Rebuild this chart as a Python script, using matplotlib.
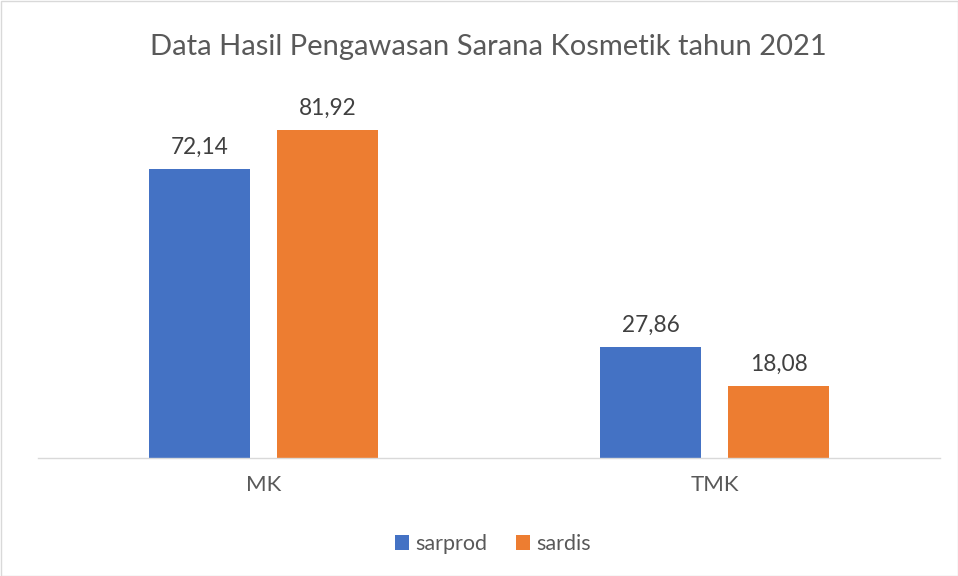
import matplotlib.pyplot as plt
import numpy as np

plt.rcParams['font.family'] = ['Lato', 'DejaVu Sans']

categories = ['MK', 'TMK']
sarprod = [72.14, 27.86]
sardis = [81.92, 18.08]
series_names = ['sarprod', 'sardis']

blue = '#4472C4'
orange = '#ED7D31'
txt = '#595959'
lbl = '#404040'

fig = plt.figure(figsize=(9.58, 5.76), dpi=100)
ax = fig.add_axes([38/958, 118/576, 902/958, 360/576])

x = np.arange(len(categories))
w = 0.224
off = 0.142
b1 = ax.bar(x - off, sarprod, w, color=blue, label=series_names[0])
b2 = ax.bar(x + off, sardis, w, color=orange, label=series_names[1])

def fmt(v):
    return f'{v:.2f}'.replace('.', ',')

for bars, vals in ((b1, sarprod), (b2, sardis)):
    for r, v in zip(bars, vals):
        ax.annotate(fmt(v), (r.get_x() + r.get_width()/2, v), xytext=(0, 8),
                    textcoords='offset points', ha='center', va='bottom',
                    fontsize=16.3, color=lbl)

ax.set_xlim(-0.5, 1.5)
ax.set_ylim(0, 90)
ax.set_yticks([])
ax.set_xticks(x)
ax.set_xticklabels(categories, fontsize=16, color=txt)
ax.tick_params(axis='x', length=0, pad=12)
for s in ['top', 'right', 'left']:
    ax.spines[s].set_visible(False)
ax.spines['bottom'].set_color('#D9D9D9')
ax.spines['bottom'].set_linewidth(1)

fig.text(488/958, 1 - 47/576, 'Data Hasil Pengawasan Sarana Kosmetik tahun 2021',
         ha='center', va='center', fontsize=21, color=txt)

leg = fig.legend(handles=[b1, b2], loc='center', bbox_to_anchor=(493/958, 1 - 544/576),
                 ncol=2, frameon=False, fontsize=15.5, handlelength=0.65,
                 handleheight=0.65, handletextpad=0.3, columnspacing=1.3)
for t in leg.get_texts():
    t.set_color(txt)

fig.patches.append(plt.Rectangle((0.5/958, 0.5/576), 1 - 1/958, 1 - 1/576,
                                 transform=fig.transFigure, fill=False,
                                 edgecolor='#D9D9D9', linewidth=1))

fig.savefig('out.png', dpi=100)
